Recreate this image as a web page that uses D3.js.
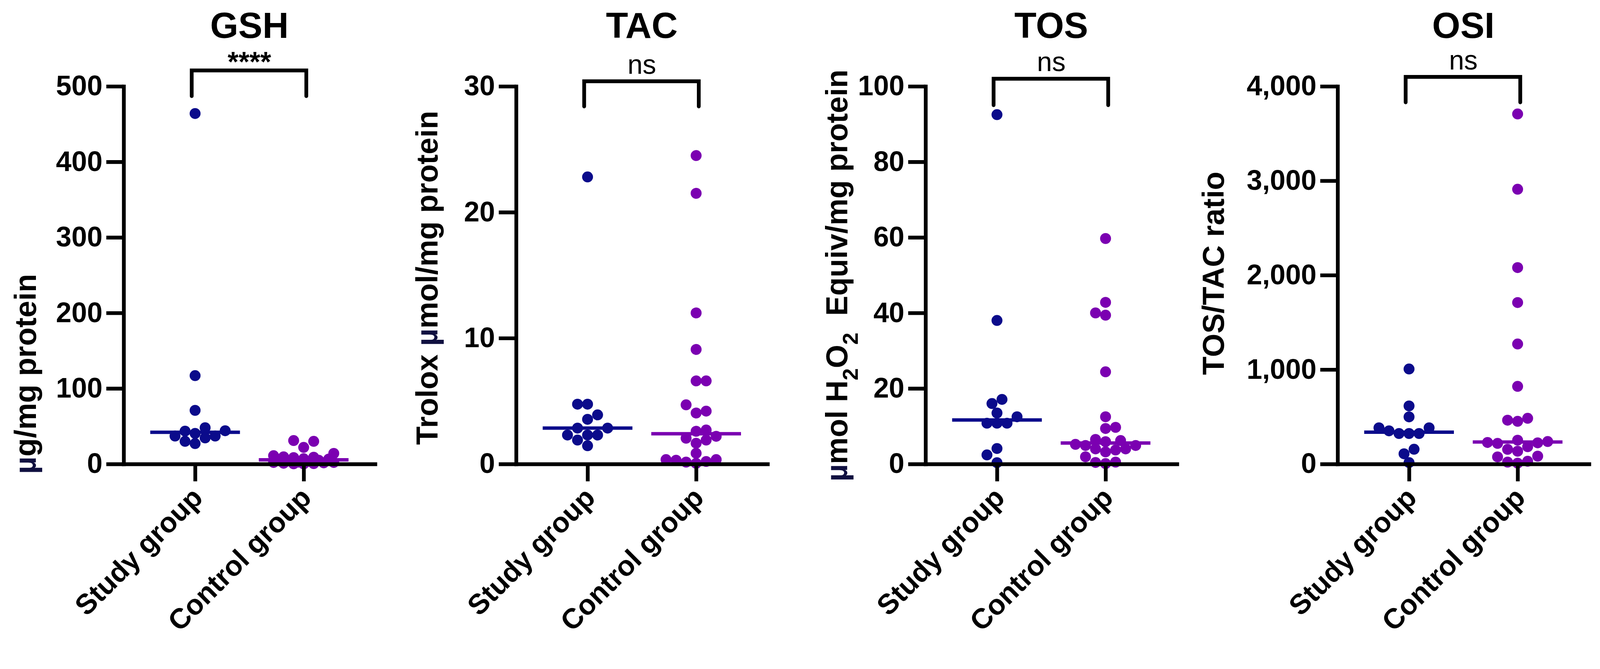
<!DOCTYPE html>
<html>
<head>
<meta charset="utf-8">
<script src="https://cdn.jsdelivr.net/npm/d3@7"></script>
<style>
  html, body { margin: 0; padding: 0; background: #fff; overflow: hidden; }
  #chart { width: 100vw; height: 100vh; }
  svg { display: block; width: 100%; height: 100%; }
  text { font-family: 'Liberation Sans', Arial, Helvetica, sans-serif; }
</style>
</head>
<body>
<div id="chart"></div>
<script>
/* global d3 */

// categories / panels
const groups = ['Study group', 'Control group']
const titles = ['GSH', 'TAC', 'TOS', 'OSI']
const signif = ['****', 'ns', 'ns', 'ns']

// y tick labels
const gshTicks = [0, 100, 200, 300, 400, 500]
const tacTicks = [0, 10, 20, 30]
const tosTicks = [0, 20, 40, 60, 80, 100]
const osiTicks = [0, 1000, 2000, 3000, 4000]

// y axis titles (parts: text, kind)
const gshLabel = [['µ', 'mu'], ['g/mg protein', '']]
const tacLabel = [['Trolox ', ''], ['µ', 'mu'], ['mol/mg protein', '']]
const tosLabel = [['µ', 'mu'], ['mol H', ''], ['2', 'sub'], ['O', ''], ['2', 'sub'], ['  Equiv/mg protein', '']]
const osiLabel = [['TOS/TAC ratio', '']]

// values
const gshStudy = [464, 117, 71, 48, 44, 43.5, 40.5, 37, 37, 34.5, 30, 27]
const gshControl = [31, 30, 22, 14, 11, 9.5, 9, 8.5, 7, 6.5, 6, 5, 4, 3.5, 2.5, 2, 2, 1.5, 1, 0.5, 0.3, 0.1]
const tacStudy = [22.8, 4.75, 4.75, 3.9, 3.55, 2.85, 2.85, 2.3, 2.3, 2.3, 1.9, 1.45]
const tacControl = [24.5, 21.5, 12.0, 9.1, 6.6, 6.6, 4.7, 4.2, 4.05, 2.7, 2.6, 2.2, 2.05, 1.9, 1.65, 0.85, 0.35, 0.35, 0.3, 0.2, 0.15, 0.05]
const tosStudy = [92.5, 38, 17.1, 16, 13.5, 12.5, 10.8, 10.8, 10.8, 4.1, 2.4, 0.35]
const tosControl = [59.7, 42.8, 40, 39.4, 24.4, 12.5, 9.7, 9.4, 6.5, 6.2, 5.9, 5.2, 4.9, 4.9, 4.0, 4.0, 3.7, 3.2, 1.9, 0.5, 0.4, 0.1]
const osiStudy = [1006, 615, 499, 383, 383, 351, 323, 323, 323, 156, 108, 15]
const osiControl = [3707, 2910, 2080, 1710, 1271, 822, 484, 464, 452, 252, 238, 228, 224, 218, 183, 155, 135, 83, 75, 29, 20, 9]

// significance brackets, data units
const bracketTop = [521, 30.4, 102, 4100]
const bracketLeg = [487, 28.4, 95, 3830]

const panels = [
  { ticks: gshTicks, label: gshLabel, study: gshStudy, control: gshControl, fmt: d3.format('d') },
  { ticks: tacTicks, label: tacLabel, study: tacStudy, control: tacControl, fmt: d3.format('d') },
  { ticks: tosTicks, label: tosLabel, study: tosStudy, control: tosControl, fmt: d3.format('d') },
  { ticks: osiTicks, label: osiLabel, study: osiStudy, control: osiControl, fmt: d3.format(',') }
]

// layout
const width = 4244, height = 1713
const axisX = [328, 1369, 2455, 3548]
const labelX = [95, 1160, 2247, 3246]
const labelY = [992, 737, 731, 725]
const plotW = 667
const yTop = 229, yBottom = 1231
const colors = ['#0b0b8b', '#7b00b1']
const r = 14.5, minDist = 26.6, half = 13.3, maxOff = 80

let svg = d3.select('#chart')
  .append('svg')
  .attr('viewBox', `0 0 ${width} ${height}`)
  .attr('preserveAspectRatio', 'xMinYMin meet')

// beeswarm on half-dot slots, limited to the column width (overlap when crowded)
let swarm = (vals, y) => {
  const order = d3.range(vals.length).sort((a, b) => vals[a] - vals[b])
  const placed = []
  const offs = []
  let flip = false
  order.forEach(i => {
    const py = y(vals[i])
    const slots = [0]
    for (let k = 1; k * half <= maxOff + 0.5; k++) {
      if (flip) slots.push(k * half, -k * half)
      else slots.push(-k * half, k * half)
    }
    const gapAt = dx => placed.length ? d3.min(placed, q => Math.hypot(q.x - dx, q.y - py)) : Infinity
    let pick = slots.find(dx => gapAt(dx) >= minDist)
    if (pick === undefined) pick = slots[d3.maxIndex(slots, gapAt)]
    offs[i] = pick
    placed.push({ x: pick, y: py })
    if (pick !== 0) flip = !flip
  })
  return offs
}

panels.forEach((p, pi) => {
  const g = svg.append('g').attr('transform', `translate(${axisX[pi]},0)`)

  const y = d3.scaleLinear()
    .domain([0, d3.max(p.ticks)])
    .range([yBottom, yTop])

  const x = d3.scalePoint()
    .domain(groups)
    .range([0, plotW])
    .padding(0.658)

  const sets = [p.study, p.control]

  // medians
  sets.forEach((vals, gi) => {
    const cx = x(groups[gi])
    const m = y(d3.median(vals))
    g.append('line')
      .attr('x1', cx - 119)
      .attr('x2', cx + 119)
      .attr('y1', m)
      .attr('y2', m)
      .attr('stroke', colors[gi])
      .attr('stroke-width', 9)
  })

  // dots
  sets.forEach((vals, gi) => {
    const cx = x(groups[gi])
    const offs = swarm(vals, y)
    g.selectAll('.dot' + gi)
      .data(vals)
      .enter()
      .append('circle')
      .attr('class', 'dot' + gi)
      .attr('cx', (d, i) => cx + offs[i])
      .attr('cy', d => y(d))
      .attr('r', r)
      .attr('fill', colors[gi])
  })

  // y axis
  const yAxis = d3.axisLeft(y)
    .tickValues(p.ticks)
    .tickSize(46)
    .tickSizeOuter(0)
    .tickPadding(10)
    .tickFormat(p.fmt)

  const ya = g.append('g').call(yAxis)
  ya.select('.domain').attr('stroke-width', 10).attr('stroke-linecap', 'square')
  ya.selectAll('.tick line').attr('stroke-width', 10)
  ya.selectAll('.tick text')
    .attr('font-size', 74)
    .attr('font-weight', 'bold')
    .attr('fill', '#000')

  // x axis
  const xAxis = d3.axisBottom(x)
    .tickSize(46)
    .tickSizeOuter(0)

  const xa = g.append('g')
    .attr('transform', `translate(0,${yBottom})`)
    .call(xAxis)
  xa.select('.domain').attr('stroke-width', 10).attr('stroke-linecap', 'square')
  xa.selectAll('.tick line').attr('stroke-width', 10)
  xa.selectAll('.tick text')
    .attr('x', 0)
    .attr('y', 0)
    .attr('dy', 0)
    .attr('text-anchor', 'end')
    .attr('transform', 'translate(24,94) rotate(-45)')
    .attr('font-size', 75)
    .attr('font-weight', 'bold')
    .attr('fill', '#000')

  // y axis title
  const lab = svg.append('text')
    .attr('transform', `translate(${labelX[pi]},${labelY[pi]}) rotate(-90)`)
    .attr('text-anchor', 'middle')
    .attr('font-size', 80)
    .attr('font-weight', 'bold')
    .style('white-space', 'pre')
  let shifted = 0
  p.label.forEach(([t, kind]) => {
    const ts = lab.append('tspan').text(t)
    if (kind === 'sub') {
      ts.attr('font-size', 58).attr('dy', 28 - shifted)
      shifted = 28
    } else if (shifted) {
      ts.attr('dy', -shifted)
      shifted = 0
    }
    if (kind === 'mu') ts.attr('fill', '#101040')
  })

  // title
  const mid = (x(groups[0]) + x(groups[1])) / 2
  g.append('text')
    .attr('x', mid)
    .attr('y', 100)
    .attr('text-anchor', 'middle')
    .attr('font-size', 96)
    .attr('font-weight', 'bold')
    .text(titles[pi])

  // significance bracket
  const bx1 = x(groups[0]) - 9, bx2 = x(groups[1]) + 7
  const bt = y(bracketTop[pi]), bl = y(bracketLeg[pi])
  g.append('path')
    .attr('d', `M${bx1},${bl}V${bt}H${bx2}V${bl}`)
    .attr('fill', 'none')
    .attr('stroke', '#000')
    .attr('stroke-width', 10)
    .attr('stroke-linecap', 'round')

  const ns = signif[pi] === 'ns'
  g.append('text')
    .attr('x', mid)
    .attr('y', ns ? bt - 20 : 190)
    .attr('text-anchor', 'middle')
    .attr('font-size', ns ? 72 : 74)
    .attr('font-weight', ns ? 'normal' : 'bold')
    .text(signif[pi])
})
</script>
</body>
</html>
